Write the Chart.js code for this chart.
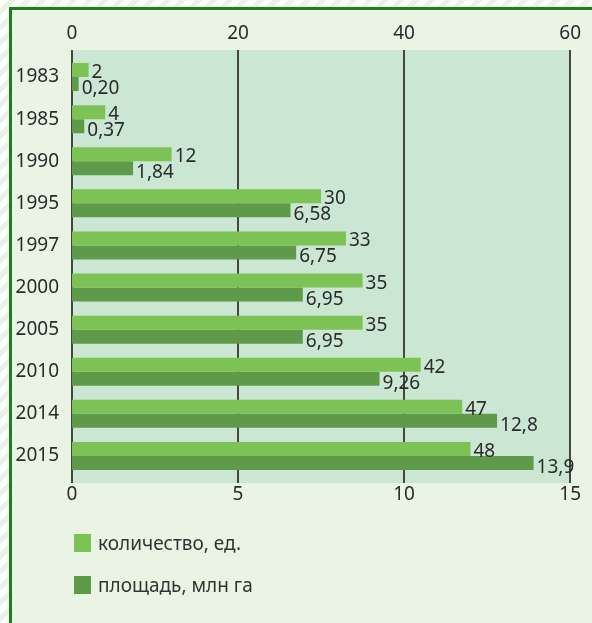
<!DOCTYPE html>
<html>
<head>
<meta charset="utf-8">
<script src="https://cdn.jsdelivr.net/npm/chart.js@4.4.0/dist/chart.umd.min.js"></script>
<style>
  html, body { margin: 0; padding: 0; }
  body {
    width: 592px; height: 623px; overflow: hidden; position: relative;
    background: repeating-linear-gradient(135deg, #ffffff 0 6px, #e8f4e2 6px 11px);
    font-family: "Noto Sans", sans-serif;
  }
  #box {
    position: absolute; left: 9px; top: 7px; width: 700px; height: 700px;
    background: #eaf4e4;
    border-left: 3px solid #1c7f1c; border-top: 3px solid #1c7f1c;
  }
  #c { position: absolute; left: 0; top: 0; }
  .leg { position: absolute; left: 74px; font-size: 19px; color: #333; display: flex; align-items: center; }
  .leg span.sw { display: inline-block; width: 17px; height: 18px; margin-right: 7px; }
</style>
</head>
<body>
<div id="box"></div>
<canvas id="c" width="592" height="623"></canvas>
<div id="legend"></div>
<script>
const years = ['1983','1985','1990','1995','1997','2000','2005','2010','2014','2015'];
const countValues = [2, 4, 12, 30, 33, 35, 35, 42, 47, 48];
const areaValues = [0.20, 0.37, 1.84, 6.58, 6.75, 6.95, 6.95, 9.26, 12.8, 13.9];
const countLabel = 'количество, ед.';
const areaLabel = 'площадь, млн га';
const topTicks = [0, 20, 40, 60];
const bottomTicks = [0, 5, 10, 15];

const lightGreen = '#7cc254';
const darkGreen = '#5f9a4b';
const FONT = '"Noto Sans", sans-serif';
const FS = 19;

function fmtArea(v) { return (v < 10 ? v.toFixed(2) : v.toFixed(1)).replace('.', ','); }
function fmtCount(v) { return String(v); }

const EXT = 6;
const bgPlugin = {
  id: 'bg',
  beforeDraw(chart) {
    const { ctx, chartArea: a } = chart;
    ctx.save();
    ctx.fillStyle = '#cbe7d3';
    ctx.fillRect(a.left, a.top - EXT, a.right - a.left, a.bottom - a.top + 2 * EXT);
    ctx.strokeStyle = '#454545';
    ctx.lineWidth = 2;
    const sx = chart.scales.x;
    bottomTicks.forEach(t => {
      const x = Math.round(sx.getPixelForValue(t));
      ctx.beginPath();
      ctx.moveTo(x, a.top - EXT);
      ctx.lineTo(x, a.bottom + EXT);
      ctx.stroke();
    });
    ctx.restore();
  }
};

const labelPlugin = {
  id: 'vals',
  afterDatasetsDraw(chart) {
    const { ctx } = chart;
    ctx.save();
    ctx.font = FS + 'px ' + FONT;
    ctx.fillStyle = '#2b2b2b';
    ctx.textAlign = 'left';
    ctx.textBaseline = 'alphabetic';
    chart.data.datasets.forEach((ds, di) => {
      const meta = chart.getDatasetMeta(di);
      meta.data.forEach((el, i) => {
        const txt = di === 0 ? fmtCount(ds.data[i]) : fmtArea(ds.data[i]);
        ctx.fillText(txt, el.x + 3, el.y + (di === 0 ? 8 : 10));
      });
    });
    ctx.restore();
  }
};

const chart = new Chart(document.getElementById('c'), {
  type: 'bar',
  data: {
    labels: years,
    datasets: [
      { label: countLabel, data: countValues, xAxisID: 'x2', backgroundColor: lightGreen,
        categoryPercentage: 0.665, barPercentage: 1.0 },
      { label: areaLabel, data: areaValues, xAxisID: 'x', backgroundColor: darkGreen,
        categoryPercentage: 0.665, barPercentage: 1.0 }
    ]
  },
  options: {
    indexAxis: 'y',
    responsive: false,
    animation: false,
    layout: { padding: { left: 0, right: 20, top: 0, bottom: 0 } },
    plugins: { legend: { display: false }, tooltip: { enabled: false } },
    scales: {
      y: {
        grid: { display: false, drawTicks: false }, border: { display: false },
        ticks: { color: '#2b2b2b', font: { family: FONT, size: FS }, padding: 13 },
        afterFit(s) { s.width = 72; }
      },
      x2: {
        position: 'top', min: 0, max: 60,
        afterBuildTicks(s) { s.ticks = topTicks.map(v => ({ value: v })); },
        grid: { display: false, drawTicks: false }, border: { display: false },
        ticks: { color: '#2b2b2b', font: { family: FONT, size: FS }, padding: 11 },
        afterFit(s) { s.height = 56; }
      },
      x: {
        position: 'bottom', min: 0, max: 15,
        afterBuildTicks(s) { s.ticks = bottomTicks.map(v => ({ value: v })); },
        grid: { display: false, drawTicks: false }, border: { display: false },
        ticks: { color: '#2b2b2b', font: { family: FONT, size: FS }, padding: 6 },
        afterFit(s) { s.height = 146; }
      }
    }
  },
  plugins: [bgPlugin, labelPlugin]
});

const legend = document.getElementById('legend');
chart.data.datasets.forEach((ds, i) => {
  const d = document.createElement('div');
  d.className = 'leg';
  d.style.top = (530 + i * 42) + 'px';
  d.innerHTML = '<span class="sw" style="background:' + ds.backgroundColor + '"></span><span>' + ds.label + '</span>';
  legend.appendChild(d);
});
</script>
</body>
</html>
